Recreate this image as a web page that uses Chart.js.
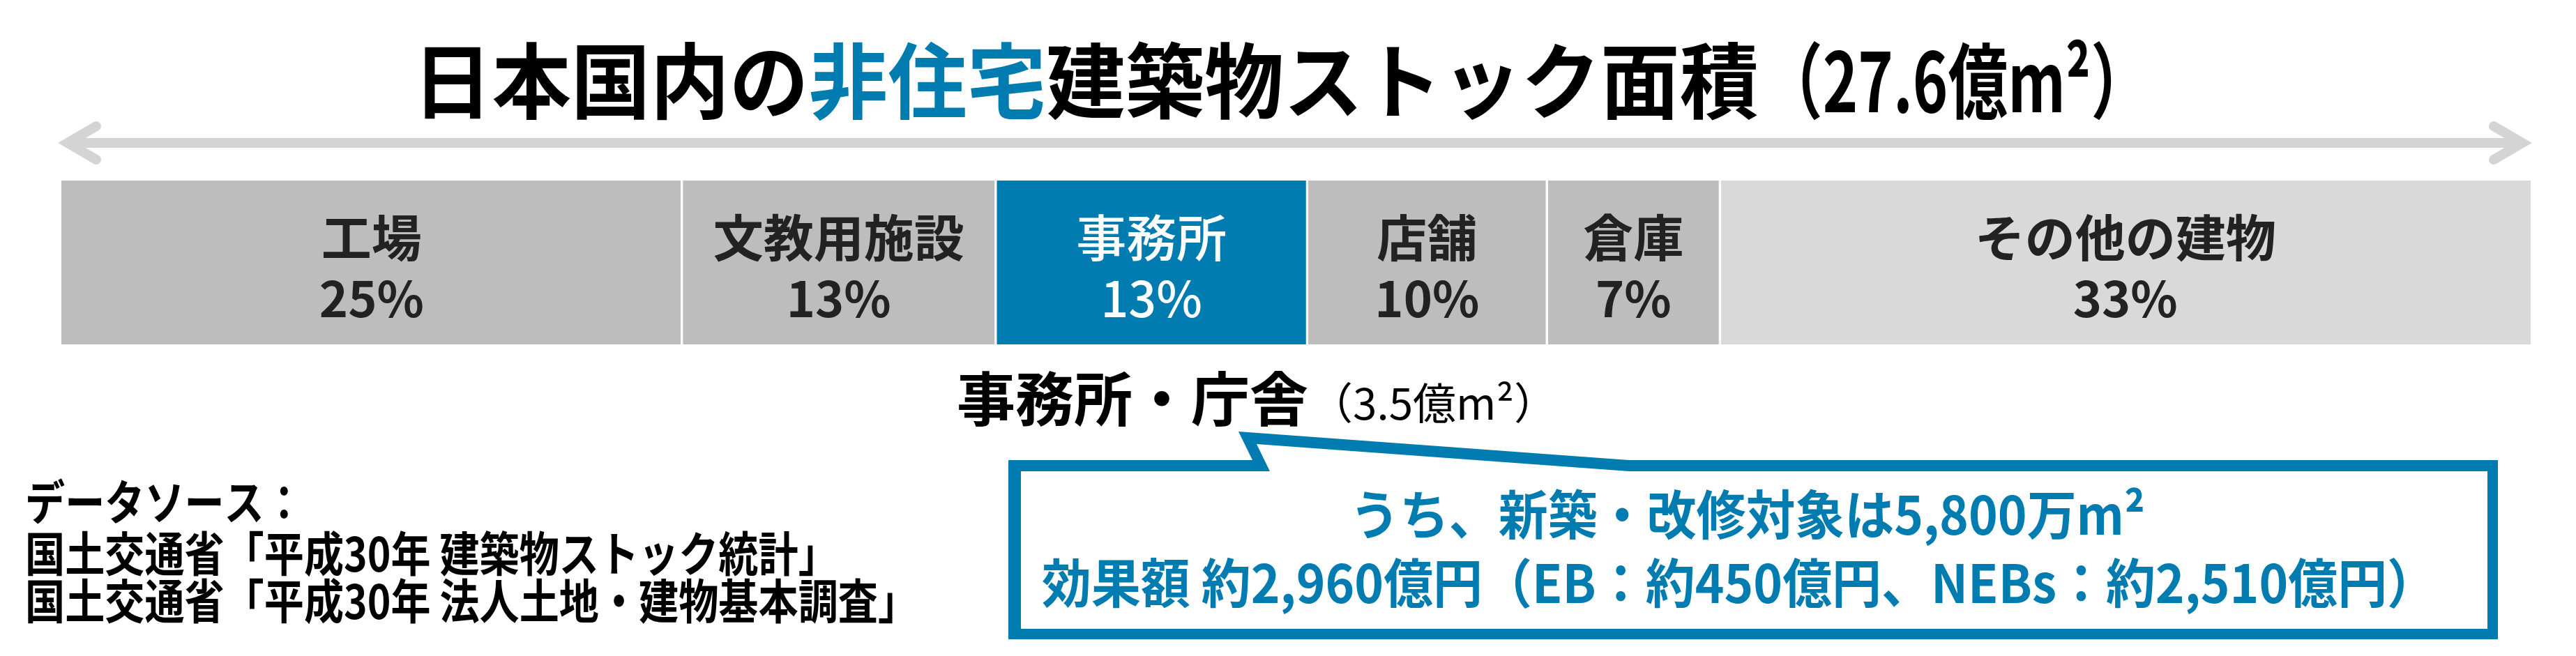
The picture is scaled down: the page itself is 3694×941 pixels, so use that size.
<!DOCTYPE html>
<html lang="ja">
<head>
<meta charset="utf-8">
<title>日本国内の非住宅建築物ストック面積</title>
<script src="https://cdn.jsdelivr.net/npm/chart.js@4.4.1/dist/chart.umd.min.js"></script>
<style>
  html, body { margin: 0; padding: 0; background: #fff; }
  #wrap { position: relative; width: 3694px; height: 941px; }
</style>
</head>
<body>
<div id="wrap"><canvas id="stock-chart"></canvas></div>
<script>
// 非住宅建築物ストック面積の内訳（帯の幅から読み取ったシェア %）
const categories = ['工場', '文教用施設', '事務所', '店舗', '倉庫', 'その他の建物'];
const shares = [25.1, 12.7, 12.6, 9.7, 7.0, 32.8];
const shareLabels = ['25%', '13%', '13%', '10%', '7%', '33%'];

const titleMain = ['日本国内の', '非住宅', '建築物ストック面積'];
const titleTotal = '（27.6億m²）';
const officeTitle = '事務所・庁舎';
const officeArea = '（3.5億m²）';
const calloutLines = ['うち、新築・改修対象は5,800万m²', '効果額 約2,960億円（EB：約450億円、NEBs：約2,510億円）'];
const sourceLines = ['データソース：', '国土交通省「平成30年 建築物ストック統計」', '国土交通省「平成30年 法人土地・建物基本調査」'];

const JP = '"Noto Sans CJK JP", "Noto Sans", sans-serif';
const BLUE = '#007cb0';
const GRAY = '#bcbdbc';
const LIGHT = '#d9d9d9';
const barColors = [GRAY, GRAY, BLUE, GRAY, GRAY, LIGHT];
const textColors = ['#222', '#222', '#fff', '#222', '#222', '#222'];

// draw a run of [text, color] pieces, squeezed to width w (if given)
function drawRun(ctx, parts, x, y, w, align) {
  let total = 0;
  parts.forEach(p => { total += ctx.measureText(p[0]).width; });
  const sx = w ? w / total : 1;
  let x0 = x;
  if (align === 'center') x0 = x - total * sx / 2;
  ctx.save();
  ctx.translate(x0, y);
  ctx.scale(sx, 1);
  ctx.textAlign = 'left';
  let cx = 0;
  parts.forEach(p => {
    ctx.fillStyle = p[1];
    ctx.fillText(p[0], cx, 0);
    cx += ctx.measureText(p[0]).width;
  });
  ctx.restore();
  return x0 + total * sx;
}

const decorations = {
  id: 'decorations',
  beforeDraw(chart) {
    const ctx = chart.ctx;
    ctx.save();
    // double arrow
    ctx.strokeStyle = '#d4d4d4';
    ctx.lineWidth = 14;
    ctx.lineCap = 'butt';
    ctx.beginPath();
    ctx.moveTo(97, 205);
    ctx.lineTo(3617, 205);
    ctx.stroke();
    ctx.lineCap = 'round';
    ctx.lineJoin = 'miter';
    ctx.beginPath();
    ctx.moveTo(138, 181); ctx.lineTo(97, 205); ctx.lineTo(138, 229);
    ctx.moveTo(3576, 181); ctx.lineTo(3617, 205); ctx.lineTo(3576, 229);
    ctx.stroke();

    // title
    ctx.textBaseline = 'middle';
    ctx.font = 'bold 118px ' + JP;
    drawRun(ctx, [[titleMain[0], '#000'], [titleMain[1], BLUE], [titleMain[2], '#000']], 592, 116, 1930);
    drawRun(ctx, [[titleTotal, '#000']], 2528, 116, 556);
    ctx.restore();
  },
  afterDatasetsDraw(chart) {
    const ctx = chart.ctx;
    ctx.save();
    ctx.textAlign = 'center';
    ctx.textBaseline = 'middle';
    chart.data.datasets.forEach((ds, i) => {
      const bar = chart.getDatasetMeta(i).data[0];
      const cx = (bar.x + bar.base) / 2;
      ctx.fillStyle = textColors[i];
      ctx.font = (i === 2 ? '500 ' : 'bold ') + '72px ' + JP;
      ctx.fillText(categories[i], cx, bar.y - 36);
      ctx.font = (i === 2 ? '500 ' : 'bold ') + '70px ' + JP;
      ctx.fillText(shareLabels[i], cx, bar.y + 52);
    });
    ctx.restore();
  },
  afterDraw(chart) {
    const ctx = chart.ctx;
    ctx.save();
    ctx.textBaseline = 'middle';

    // office heading
    ctx.font = 'bold 84px ' + JP;
    const endX = drawRun(ctx, [[officeTitle, '#000']], 1372, 572);
    ctx.font = '62px ' + JP;
    drawRun(ctx, [[officeArea, '#000']], endX + 2, 578, 355);

    // callout box with pointer
    ctx.fillStyle = BLUE;
    ctx.beginPath();
    ctx.moveTo(1446, 660); ctx.lineTo(1796, 660); ctx.lineTo(1776, 619);
    ctx.lineTo(2336, 660); ctx.lineTo(3582, 660); ctx.lineTo(3582, 917);
    ctx.lineTo(1446, 917); ctx.closePath();
    ctx.fill();
    ctx.fillStyle = '#fff';
    ctx.beginPath();
    ctx.moveTo(1464, 676); ctx.lineTo(1821, 676); ctx.lineTo(1802, 637);
    ctx.lineTo(2336, 676); ctx.lineTo(3567, 676); ctx.lineTo(3567, 902);
    ctx.lineTo(1464, 902); ctx.closePath();
    ctx.fill();

    ctx.font = 'bold 76px ' + JP;
    drawRun(ctx, [[calloutLines[0], BLUE]], 2506, 738, 1140, 'center');
    drawRun(ctx, [[calloutLines[1], BLUE]], 2494, 836, 2000, 'center');

    // data source notes
    ctx.font = 'bold 68px ' + JP;
    const sx = 1280 / ctx.measureText(sourceLines[2]).width;
    [720, 794, 862].forEach((y, i) => {
      const w = ctx.measureText(sourceLines[i]).width * sx;
      drawRun(ctx, [[sourceLines[i], '#000']], 36, y, w);
    });
    ctx.restore();
  }
};

const total = shares.reduce((a, b) => a + b, 0);

new Chart(document.getElementById('stock-chart'), {
  type: 'bar',
  data: {
    labels: ['非住宅'],
    datasets: categories.map((c, i) => ({
      label: c,
      data: [shares[i]],
      backgroundColor: barColors[i],
      borderColor: '#fff',
      borderWidth: { left: i === 0 ? 0 : 2, right: i === categories.length - 1 ? 0 : 2, top: 0, bottom: 0 },
      borderSkipped: false,
      barPercentage: 1,
      categoryPercentage: 1
    }))
  },
  options: {
    indexAxis: 'y',
    responsive: true,
    maintainAspectRatio: false,
    animation: false,
    layout: { padding: { left: 88, right: 65, top: 259, bottom: 447 } },
    plugins: {
      legend: { display: false },
      tooltip: { enabled: false }
    },
    scales: {
      x: { stacked: true, display: false, min: 0, max: total, grid: { display: false } },
      y: { stacked: true, display: false, grid: { display: false } }
    }
  },
  plugins: [decorations]
});
</script>
</body>
</html>
